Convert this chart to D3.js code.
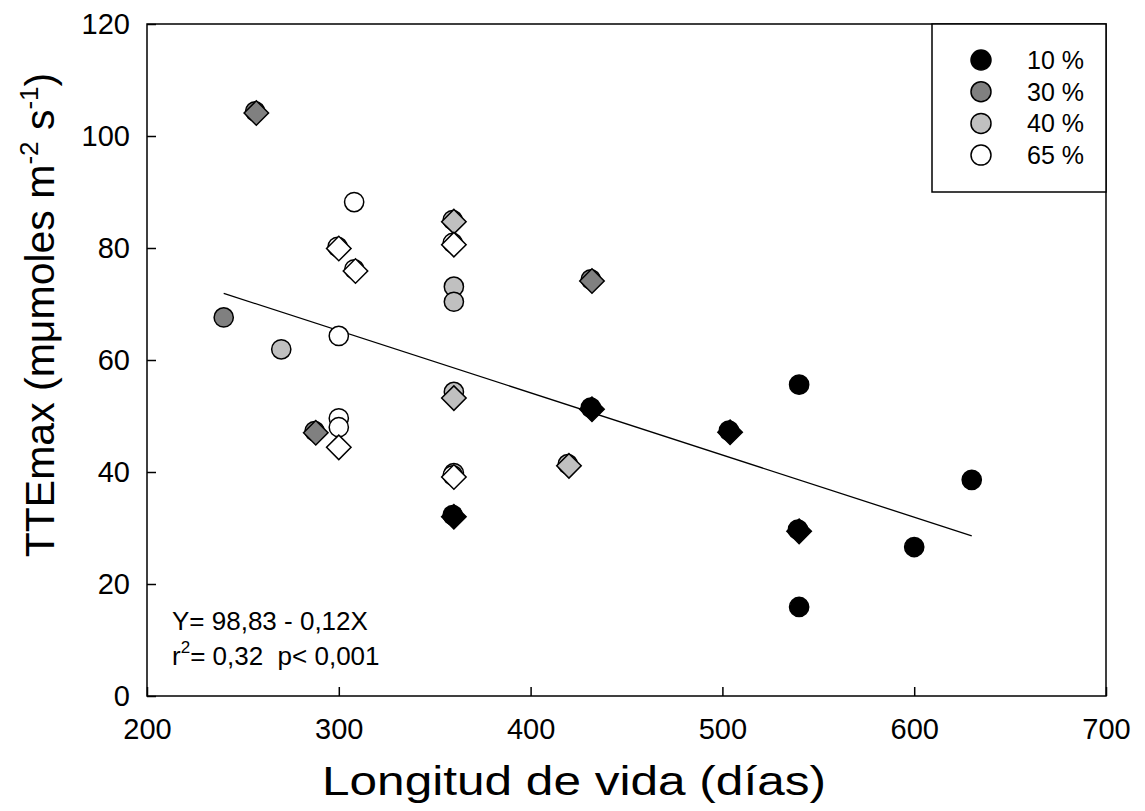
<!DOCTYPE html>
<html>
<head>
<meta charset="utf-8">
<script src="https://cdn.jsdelivr.net/npm/d3@7"></script>
<style>
  body { margin: 0; background: white; }
  text { font-family: "Liberation Sans", Arial, sans-serif; fill: black; }
</style>
</head>
<body>
<div id="chart"></div>
<script>
// setup
var w = 1145;
var h = 811;
var margin = {left: 147, right: 39, top: 24, bottom: 115};

// data : [dias, TTEmax]
var groups = ["10 %", "30 %", "40 %", "65 %"];
var fills = ["#000000", "#808080", "#c0c0c0", "#ffffff"];

var circles10 = [[540, 55.6], [630, 38.6], [600, 26.6], [540, 15.9], [431.4, 51.5], [503.4, 47.4], [359.4, 32.3], [539.4, 29.7]];
var diamonds10 = [[432, 51.2], [504, 47.1], [360, 32.0], [540, 29.4]];

var circles30 = [[240, 67.6], [256.4, 104.4], [287.4, 47.3], [431.4, 74.4]];
var diamonds30 = [[257, 104.1], [288, 47.0], [432, 74.1]];

var circles40 = [[270, 61.9], [360, 73.1], [360, 70.4], [360, 54.3], [360, 39.8], [359.4, 85.0], [419.4, 41.4]];
var diamonds40 = [[360, 53.2], [360, 84.7], [420, 41.1]];

var circles65 = [[308, 88.2], [300, 64.3], [300, 49.6], [300, 48.0], [299.4, 80.2], [308.1, 76.2], [359.4, 80.9], [359.4, 39.4]];
var diamonds65 = [[300, 79.9], [308.7, 75.9], [300, 44.4], [360, 80.6], [360, 39.1]];

// regression line end points
var fitLine = [[240, 71.9], [630, 28.6]];

var xTicks = [200, 300, 400, 500, 600, 700];
var yTicks = [0, 20, 40, 60, 80, 100, 120];

var svg = d3.select("#chart")
            .append("svg")
            .attr("width", w)
            .attr("height", h)
            .style("background", "white");

var x = d3.scaleLinear().domain([200, 700]).range([margin.left, w - margin.right]);
var y = d3.scaleLinear().domain([0, 120]).range([h - margin.bottom, margin.top]);

// axes (ticks pointing inward)
var xAxis = svg.append("g")
    .attr("transform", "translate(0," + (h - margin.bottom) + ")")
    .call(d3.axisBottom(x).tickValues(xTicks).tickSizeInner(-9).tickSizeOuter(0).tickPadding(22));
var yAxis = svg.append("g")
    .attr("transform", "translate(" + margin.left + ",0)")
    .call(d3.axisLeft(y).tickValues(yTicks).tickSizeInner(-9).tickSizeOuter(0).tickPadding(17));
[xAxis, yAxis].forEach(function(a){
    a.select(".domain").remove();
    a.selectAll("line").attr("stroke", "black").attr("stroke-width", 1.5);
    a.selectAll("text").style("font-size", "29px").attr("font-family", null);
});

// frame
svg.append("rect")
    .attr("x", x(200)).attr("y", y(120))
    .attr("width", x(700) - x(200)).attr("height", y(0) - y(120))
    .attr("fill", "none").attr("stroke", "black").attr("stroke-width", 1.5);

// regression line
svg.append("path")
    .datum(fitLine)
    .attr("d", d3.line().x(function(d){ return x(d[0]); }).y(function(d){ return y(d[1]); }))
    .attr("fill", "none").attr("stroke", "black").attr("stroke-width", 1.3);

// markers
var circleSets = [circles10, circles30, circles40, circles65];
var diamondSets = [diamonds10, diamonds30, diamonds40, diamonds65];
var diamond = d3.symbol().type(d3.symbolSquare).size(300);

circleSets.forEach(function(set, i){
    svg.append("g").selectAll("circle")
        .data(set)
        .enter()
        .append("circle")
            .attr("cx", function(d){ return x(d[0]); })
            .attr("cy", function(d){ return y(d[1]); })
            .attr("r", 9.6)
            .attr("fill", fills[i])
            .attr("stroke", "black")
            .attr("stroke-width", 1.5);
});
diamondSets.forEach(function(set, i){
    svg.append("g").selectAll("path")
        .data(set)
        .enter()
        .append("path")
            .attr("d", diamond)
            .attr("transform", function(d){ return "translate(" + x(d[0]) + "," + y(d[1]) + ") rotate(45)"; })
            .attr("fill", fills[i])
            .attr("stroke", "black")
            .attr("stroke-width", 1.5);
});

// legend
var lg = svg.append("g");
lg.append("rect")
    .attr("x", 932).attr("y", y(120))
    .attr("width", x(700) - 932).attr("height", 168)
    .attr("fill", "white").attr("stroke", "black").attr("stroke-width", 1.5);
groups.forEach(function(g, i){
    var yy = 60 + i * 31.7;
    lg.append("circle")
        .attr("cx", 981).attr("cy", yy).attr("r", 10)
        .attr("fill", fills[i]).attr("stroke", "black").attr("stroke-width", 1.5);
    lg.append("text")
        .attr("x", 1027).attr("y", yy + 9)
        .style("font-size", "25px")
        .text(g);
});

// equation
var eq = svg.append("g").style("font-size", "26px");
eq.append("text").attr("x", 172).attr("y", 630).text("Y= 98,83 - 0,12X");
var r2 = eq.append("text").attr("x", 172).attr("y", 665).attr("xml:space", "preserve");
r2.append("tspan").text("r");
r2.append("tspan").attr("dy", -12).style("font-size", "17px").text("2");
r2.append("tspan").attr("dy", 12).text("= 0,32  p< 0,001");

// axis titles
svg.append("text")
    .attr("x", 322).attr("y", 795)
    .attr("textLength", 504)
    .attr("lengthAdjust", "spacingAndGlyphs")
    .style("font-size", "41px")
    .text("Longitud de vida (días)");

var yt = svg.append("text")
    .attr("transform", "translate(54,315) rotate(-90)")
    .attr("text-anchor", "middle")
    .style("font-size", "41px");
yt.append("tspan").text("TTEmax (mμmoles m");
yt.append("tspan").attr("dy", -16).style("font-size", "26px").text("-2");
yt.append("tspan").attr("dy", 16).text(" s");
yt.append("tspan").attr("dy", -16).style("font-size", "26px").text("-1");
yt.append("tspan").attr("dy", 16).text(")");
</script>
</body>
</html>
